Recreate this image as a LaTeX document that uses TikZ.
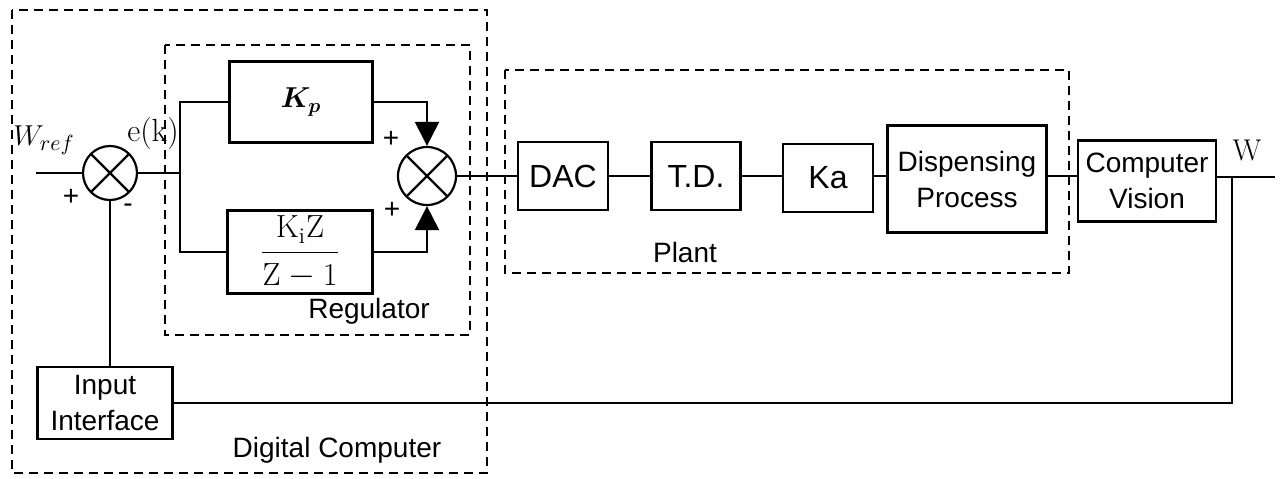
\documentclass[tikz,border=0pt]{standalone}
\usepackage{amsmath}
\usepackage{amssymb}
\usepackage{fontspec}
\newfontfamily\blkfont{Liberation Sans}
\usetikzlibrary{arrows.meta}
\tikzset{>={Triangle[width=12pt,length=12pt]}}
\tikzset{
  blk/.style={draw, inner sep=0pt, align=center, font=\blkfont\fontsize{14}{18}\selectfont},
  bigblk/.style={blk, font=\blkfont\fontsize{16}{18}\selectfont},
  summer/.style={draw, circle, inner sep=0pt,
    path picture={\draw (path picture bounding box.north west) -- (path picture bounding box.south east)
                        (path picture bounding box.south west) -- (path picture bounding box.north east);}},
  frame/.style={dash pattern=on 4.5pt off 3pt, line width=1.2pt},
  lbl/.style={font=\blkfont\fontsize{14}{18}\selectfont},
  mathlbl/.style={font=\fontsize{15}{17}\selectfont},
}

\begin{document}
\begin{tikzpicture}[x=0.5pt, y=-0.5pt, line width=1.1pt]
  \useasboundingbox (0,0) rectangle (1280,478);
  % Dashed frames
  \draw[frame] (12,10) rectangle (487,473);
  \draw[frame] (165,45) rectangle (470,335);
  \draw[frame] (505,70) rectangle (1069,273);
  % Summing junctions
  \node[summer, minimum size=27pt] (sumA) at (110,173) {};
  \node[summer, minimum size=29pt] (sumB) at (427,176) {};
  % Regulator blocks
  \node[blk, minimum width=71.5pt, minimum height=40.5pt, font=\fontsize{14}{16}\selectfont] (kp) at (301,102) {$\boldsymbol{K_p}$};
  \node[blk, minimum width=72.5pt, minimum height=41.5pt, font=\fontsize{16}{18}\selectfont] (ki) at (300,252)
    {$\dfrac{\hspace{7pt}\mathrm{K_iZ}\hspace{7pt}}{\mathrm{Z - 1}}$};
  % Plant and sensor blocks
  \node[bigblk, minimum width=45pt, minimum height=34pt] (dac) at (563,176) {DAC};
  \node[bigblk, minimum width=44.5pt, minimum height=34pt] (td) at (696,176) {T.D.};
  \node[bigblk, minimum width=45pt, minimum height=34pt] (ka) at (828,178) {Ka};
  \node[blk, minimum width=79.5pt, minimum height=53.5pt] (disp) at (967,179) {Dispensing\\Process};
  \node[blk, minimum width=69pt, minimum height=40.5pt] (cv) at (1147,181) {Computer\\Vision};
  \node[blk, minimum width=67.5pt, minimum height=36pt] (inif) at (105,403) {Input\\Interface};
  % Free ends and branch points
  \coordinate (win) at (36,173);
  \coordinate (split) at (180,173);
  \coordinate (wout) at (1275,177);
  \coordinate (tap) at (1232,177);
  % Connectors
  \draw (win) -- (sumA.west);
  \draw (sumA.east) -- (split);
  \draw (kp.west) -| (split) |- (ki.west);
  \draw[->] (kp.east) -| (sumB.north);
  \draw[->] (ki.east) -| (sumB.south);
  \draw (sumB.east) -- (dac.west);
  \draw (dac.east) -- (td.west);
  \draw (td.east) -- (td.east -| ka.west);
  \draw (ka.east |- td.east) -- (td.east -| disp.west);
  \draw (disp.east |- td.east) -- (td.east -| cv.west);
  \draw (cv.east |- wout) -- (wout);
  \draw (tap) |- (inif.east);
  \draw (sumA.south) -- (sumA.south |- inif.north);
  % Labels
  \node[mathlbl] (wref) at (44,140) {$W_{ref}$};
  \node[mathlbl, font=\fontsize{16}{18}\selectfont] (err) at (153,134) {e(k)};
  \node[mathlbl] (wlbl) at (1247,150) {W};
  \node[lbl] (plusA) at (71,197) {+};
  \node[lbl] (minusA) at (128,208) {-};
  \node[lbl] (plusB) at (391,139) {+};
  \node[lbl] (plusC) at (392,210) {+};
  \node[lbl] (reglbl) at (369,311) {Regulator};
  \node[lbl] (plantlbl) at (685,252) {Plant};
  \node[lbl] (dclbl) at (337,450) {Digital Computer};
\end{tikzpicture}
\end{document}
